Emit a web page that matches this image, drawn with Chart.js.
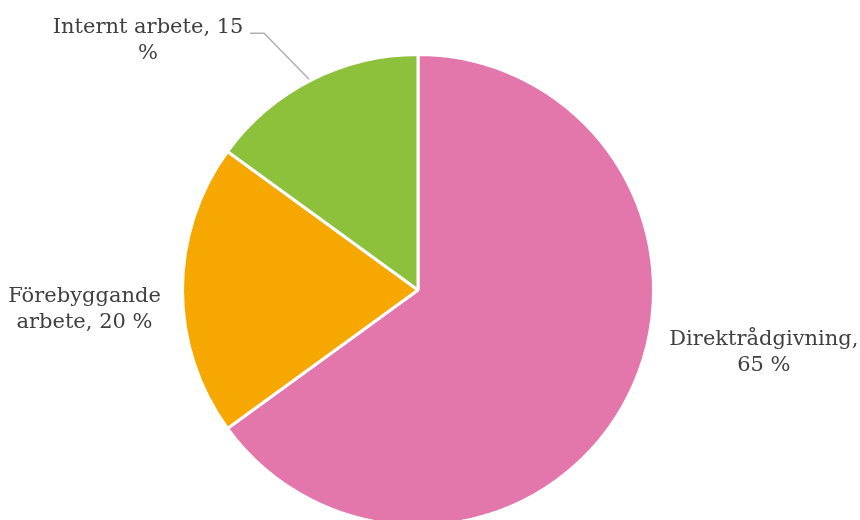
<!DOCTYPE html>
<html>
<head>
<meta charset="utf-8">
<script src="https://cdn.jsdelivr.net/npm/chart.js@4/dist/chart.umd.min.js"></script>
<style>
  html, body { margin: 0; padding: 0; background: #fff; overflow: hidden; }
  #wrap { width: 860px; height: 530px; }
</style>
</head>
<body>
<div id="wrap"><canvas id="pie"></canvas></div>
<script>
// data
const categories = ['Direktrådgivning', 'Förebyggande arbete', 'Internt arbete'];
const shares = [65, 20, 15];
const labelLines = [
    ['Direktrådgivning,', '65 %'],
    ['Förebyggande', 'arbete, 20 %'],
    ['Internt arbete, 15', '%']
];
const sliceColors = ['#E377AB', '#F7A800', '#8DC13C'];

// where each label sits, relative to the slice's outer mid point
const labelOffsets = [
    { dx: 136, dy: -44 },
    { dx: -98, dy: 20 },
    { dx: -163, dy: -40, leader: true }
];

// draws the data labels next to each slice
const sliceLabels = {
    id: 'sliceLabels',
    afterDatasetsDraw(chart) {
        const ctx = chart.ctx;
        const arcs = chart.getDatasetMeta(0).data;
        ctx.save();
        ctx.font = '21px "DejaVu Serif", serif';
        ctx.fillStyle = '#404040';
        ctx.textAlign = 'center';
        ctx.textBaseline = 'middle';
        arcs.forEach((arc, i) => {
            const mid = (arc.startAngle + arc.endAngle) / 2;
            const px = arc.x + Math.cos(mid) * arc.outerRadius;
            const py = arc.y + Math.sin(mid) * arc.outerRadius;
            const off = labelOffsets[i];
            const lx = px + off.dx;
            const ly = py + off.dy;
            const lineH = 26;
            const lines = labelLines[i];
            lines.forEach((t, k) => {
                ctx.fillText(t, lx, ly + (k - (lines.length - 1) / 2) * lineH);
            });
            if (off.leader) {
                // leader line from slice to first text line
                const ty = ly - lineH / 2 + 6;
                ctx.strokeStyle = '#B0B0B0';
                ctx.lineWidth = 1.5;
                ctx.beginPath();
                ctx.moveTo(px - 2, py - 1);
                ctx.lineTo(px - 47, ty);
                ctx.lineTo(px - 61, ty);
                ctx.stroke();
            }
        });
        ctx.restore();
    }
};

new Chart(document.getElementById('pie'), {
    type: 'pie',
    data: {
        labels: categories,
        datasets: [{
            data: shares,
            backgroundColor: sliceColors,
            borderColor: '#ffffff',
            borderWidth: 3
        }]
    },
    options: {
        responsive: true,
        maintainAspectRatio: false,
        animation: false,
        layout: { padding: { left: 181, right: 205, top: 53, bottom: 3 } },
        plugins: {
            legend: { display: false },
            tooltip: { enabled: false }
        }
    },
    plugins: [sliceLabels]
});
</script>
</body>
</html>
